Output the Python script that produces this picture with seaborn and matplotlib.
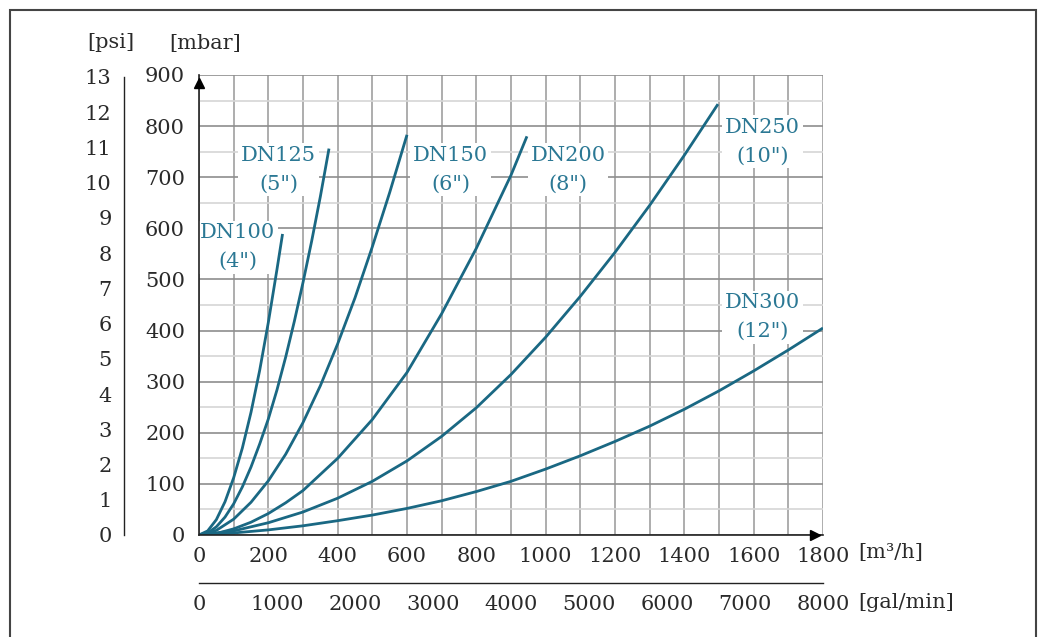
import numpy as np
import pandas as pd
import matplotlib
matplotlib.use("Agg")
import matplotlib.pyplot as plt
from matplotlib.patches import Rectangle
from matplotlib.ticker import MultipleLocator
import seaborn as sns

# ---- data (flow m3/h, pressure loss mbar) ----
dn100_q = [0, 25, 50, 75, 100, 125, 150, 175, 200, 225, 241]
dn100_p = [0, 8, 30, 65, 112, 170, 240, 322, 416, 520, 589]

dn125_q = [0, 25, 50, 75, 100, 125, 150, 175, 200, 225, 250, 275, 300, 325, 350, 375]
dn125_p = [0, 4, 16, 35, 61, 94, 133, 178, 227, 284, 348, 418, 494, 575, 662, 756]

dn150_q = [0, 50, 100, 150, 200, 250, 300, 350, 400, 450, 500, 550, 600]
dn150_p = [0, 9, 31, 64, 106, 158, 220, 292, 374, 464, 564, 670, 783]

dn200_q = [0, 50, 100, 150, 200, 250, 300, 400, 500, 600, 700, 800, 900, 946]
dn200_p = [0, 3, 12, 25, 42, 63, 87, 150, 226, 318, 433, 561, 704, 780]

dn250_q = [0, 100, 200, 300, 400, 500, 600, 700, 800, 900, 1000, 1100, 1200, 1300, 1400, 1497]
dn250_p = [0, 8, 24, 45, 72, 105, 145, 193, 249, 314, 387, 467, 553, 645, 743, 843]

dn300_q = [0, 100, 200, 300, 400, 500, 600, 700, 800, 900, 1000, 1100, 1200, 1300, 1400, 1500, 1600, 1700, 1800]
dn300_p = [0, 4, 10, 18, 28, 39, 52, 67, 85, 105, 129, 155, 183, 213, 246, 282, 321, 362, 405]

series_names = ["DN100", "DN125", "DN150", "DN200", "DN250", "DN300"]
series_inch = ['(4")', '(5")', '(6")', '(8")', '(10")', '(12")']
label_x = [112, 229, 726, 1065, 1625, 1625]
label_y = [563, 715, 715, 715, 770, 426]

x_ticks = [0, 200, 400, 600, 800, 1000, 1200, 1400, 1600, 1800]
y_ticks = [0, 100, 200, 300, 400, 500, 600, 700, 800, 900]
psi_ticks = list(range(0, 14))
gal_ticks = [0, 1000, 2000, 3000, 4000, 5000, 6000, 7000, 8000]

MBAR_PER_PSI = 68.9476

# ---- build long-form table ----
qs = [dn100_q, dn125_q, dn150_q, dn200_q, dn250_q, dn300_q]
ps = [dn100_p, dn125_p, dn150_p, dn200_p, dn250_p, dn300_p]
rows = []
for name, q, p in zip(series_names, qs, ps):
    for a, b in zip(q, p):
        rows.append({"size": name, "Q": a, "mbar": b})
df = pd.DataFrame(rows)

sns.set_style("white")
plt.rcParams["font.family"] = ["DejaVu Serif", "DejaVu Sans"]

W, H = 1038, 637
fig = plt.figure(figsize=(W / 100, H / 100), dpi=100)

LINE = "#1a6883"
TXT = "#2b7894"
DARK = "#2a2a2a"
FS = 15

x0, x1 = 199, 823
y0, y1 = 535, 75
left = x0 / W
width = (x1 - x0) / W
bottom = (H - y0) / H
height = (y0 - y1) / H

ax = fig.add_axes([left, bottom, width, height])
sns.lineplot(data=df, x="Q", y="mbar", hue="size", palette=[LINE] * 6,
             legend=False, sort=False, estimator=None, lw=2.0, ax=ax, zorder=5)
for ln in ax.get_lines():
    ln.set_solid_joinstyle("round")
    ln.set_solid_capstyle("butt")
ax.set_xlim(0, 1800)
ax.set_ylim(0, 900)
ax.set_xlabel("")
ax.set_ylabel("")
ax.set_xticks(x_ticks)
ax.set_xticklabels([str(v) for v in x_ticks])
ax.set_yticks(y_ticks)
ax.set_yticklabels([str(v) for v in y_ticks])
ax.xaxis.set_minor_locator(MultipleLocator(100))
ax.yaxis.set_minor_locator(MultipleLocator(50))
ax.tick_params(axis="x", which="both", direction="out", length=5, width=1,
               color=DARK, labelsize=FS, labelcolor=DARK, pad=4)
ax.tick_params(axis="y", which="major", direction="out", length=6, width=1,
               color=DARK, labelsize=FS, labelcolor=DARK, pad=4)
ax.tick_params(axis="y", which="minor", length=0)
ax.grid(True, axis="x", which="both", color="#a0a0a0", lw=1.2)
ax.grid(True, axis="y", which="major", color="#8e8e8e", lw=1.2)
ax.grid(True, axis="y", which="minor", color="#d6d6d6", lw=1.2)
ax.set_axisbelow(True)
for s in ["top", "right"]:
    ax.spines[s].set_visible(False)
for s in ["left", "bottom"]:
    ax.spines[s].set_color("#222222")
    ax.spines[s].set_linewidth(1.2)
    ax.spines[s].set_zorder(6)

# arrow heads
ax.plot([0], [0.982], marker="^", color="black", markersize=7,
        transform=ax.transAxes, clip_on=False, zorder=7)
ax.plot([0.987], [0], marker=">", color="black", markersize=7,
        transform=ax.transAxes, clip_on=False, zorder=7)

# curve labels
for name, inch, lx, ly in zip(series_names, series_inch, label_x, label_y):
    ax.text(lx, ly, name + "\n" + inch, ha="center", va="center",
            fontsize=FS, color=TXT, linespacing=1.65, zorder=4,
            bbox=dict(facecolor="white", edgecolor="none", pad=2))

# unit labels
ax.text(1.056, -0.039, "[m³/h]", transform=ax.transAxes, ha="left",
        va="center", fontsize=FS, color=DARK)

# psi axis
axp = fig.add_axes([124 / W, bottom, 0.0001, height])
axp.set_facecolor("none")
axp.set_ylim(0, 900 / MBAR_PER_PSI)
axp.set_yticks(psi_ticks)
axp.set_yticklabels([str(v) for v in psi_ticks])
axp.set_xticks([])
for s in ["top", "right", "bottom"]:
    axp.spines[s].set_visible(False)
axp.spines["left"].set_bounds(0, 13)
axp.spines["left"].set_color("#222222")
axp.spines["left"].set_linewidth(1.0)
axp.tick_params(axis="y", direction="out", length=6, width=1, color=DARK,
                labelsize=FS, labelcolor=DARK, pad=3)

# gal/min axis
gy = 583
axg = fig.add_axes([left, (H - gy) / H, width, 0.0001])
axg.set_facecolor("none")
axg.set_xlim(0, 8000)
axg.set_xticks(gal_ticks)
axg.set_xticklabels([str(v) for v in gal_ticks])
axg.xaxis.set_minor_locator(MultipleLocator(500))
axg.set_yticks([])
for s in ["top", "right", "left"]:
    axg.spines[s].set_visible(False)
axg.spines["bottom"].set_color("#222222")
axg.spines["bottom"].set_linewidth(1.0)
axg.tick_params(axis="x", which="both", direction="out", length=5, width=1,
                color=DARK, labelsize=FS, labelcolor=DARK, pad=4)
fig.text(858 / W, (H - 603) / H, "[gal/min]", ha="left", va="center",
         fontsize=FS, color=DARK)

# axis unit headers
fig.text(111 / W, (H - 43) / H, "[psi]", ha="center", va="center",
         fontsize=FS, color=DARK)
fig.text(205 / W, (H - 43) / H, "[mbar]", ha="center", va="center",
         fontsize=FS, color=DARK)

# outer frame
fig.add_artist(Rectangle((10 / W, -0.05), (1036 - 10) / W, (H - 10) / H + 0.05,
                         transform=fig.transFigure, fill=False,
                         edgecolor="#444444", lw=1.5))

fig.savefig("out.png", dpi=100)
